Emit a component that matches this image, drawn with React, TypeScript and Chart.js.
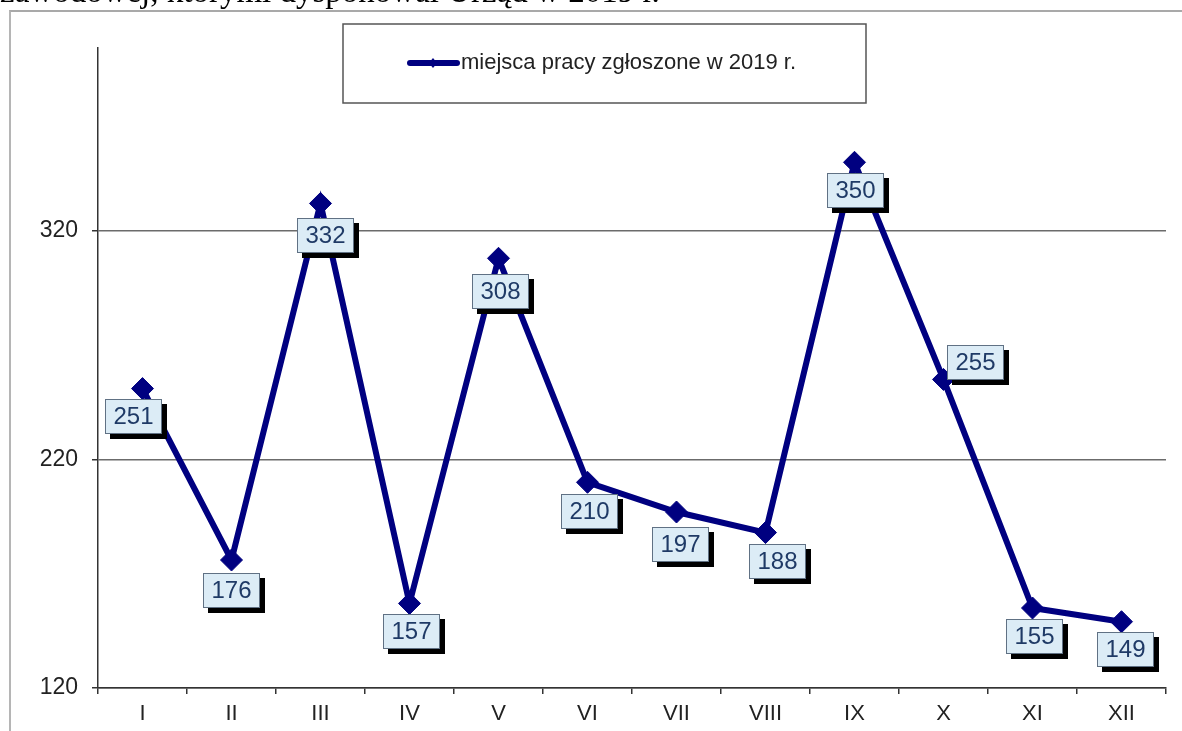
import React, { useEffect, useRef } from "react";
import { Chart, registerables } from "chart.js";

Chart.register(...registerables);

const categories = ["I", "II", "III", "IV", "V", "VI", "VII", "VIII", "IX", "X", "XI", "XII"];
const values = [251, 176, 332, 157, 308, 210, 197, 188, 350, 255, 155, 149];
const yTicks = [120, 220, 320];
const yMin = 120;
const yMax = 400;
const seriesLabel = "miejsca pracy zgłoszone w 2019 r.";
const headerText = "zawodowej, którymi dysponował Urząd w 2019 r.";
// label box offsets relative to each point (px)
const labelOffsets = [
  [-9, 28], [0, 30], [5, 32], [2, 28], [2, 33], [2, 29],
  [4, 32], [12, 29], [1, 28], [32, -17], [2, 28], [4, 28],
];

const NAVY = "#000080";
const SANS = '"Liberation Sans", Arial, sans-serif';

const boxLabelPlugin = {
  id: "boxLabels",
  afterDatasetsDraw(chart: any) {
    const ctx = chart.ctx;
    const meta = chart.getDatasetMeta(0);
    const ds = chart.data.datasets[0].data as number[];
    ctx.save();
    ctx.font = `24px ${SANS}`;
    meta.data.forEach((pt: any, i: number) => {
      const [dx, dy] = labelOffsets[i];
      const cx = pt.x + dx;
      const cy = pt.y + dy;
      const w = 57;
      const h = 35;
      const x0 = Math.round(cx - w / 2);
      const y0 = Math.round(cy - h / 2);
      ctx.fillStyle = "#000";
      ctx.fillRect(x0 + 5, y0 + 5, w, h);
      ctx.fillStyle = "#dcecf6";
      ctx.fillRect(x0, y0, w, h);
      ctx.strokeStyle = "#607184";
      ctx.lineWidth = 1;
      ctx.strokeRect(x0 + 0.5, y0 + 0.5, w - 1, h - 1);
      ctx.fillStyle = "#1f3a66";
      ctx.textAlign = "center";
      ctx.textBaseline = "middle";
      ctx.fillText(String(ds[i]), x0 + w / 2, y0 + h / 2 + 1);
    });
    ctx.restore();
  },
};

const legendBoxPlugin = {
  id: "legendBox",
  afterDraw(chart: any) {
    const ctx = chart.ctx;
    const label = chart.data.datasets[0].label as string;
    ctx.save();
    ctx.fillStyle = "#fff";
    ctx.fillRect(343, 24, 523, 79);
    ctx.strokeStyle = "#555";
    ctx.lineWidth = 1.5;
    ctx.strokeRect(343, 24, 523, 79);
    const ly = 63;
    ctx.strokeStyle = NAVY;
    ctx.lineWidth = 6;
    ctx.lineCap = "round";
    ctx.beginPath();
    ctx.moveTo(410, ly);
    ctx.lineTo(457, ly);
    ctx.stroke();
    ctx.fillStyle = NAVY;
    ctx.beginPath();
    ctx.moveTo(433, ly - 5);
    ctx.lineTo(437, ly);
    ctx.lineTo(433, ly + 5);
    ctx.lineTo(429, ly);
    ctx.closePath();
    ctx.fill();
    ctx.fillStyle = "#222";
    ctx.font = `22px ${SANS}`;
    ctx.textAlign = "left";
    ctx.textBaseline = "middle";
    ctx.fillText(label, 461, ly);
    ctx.restore();
  },
};

export default function App() {
  const canvasRef = useRef<HTMLCanvasElement | null>(null);

  useEffect(() => {
    document.body.style.margin = "0";
    const canvas = canvasRef.current;
    if (!canvas) return;
    const chart = new Chart(canvas, {
      type: "line",
      data: {
        labels: categories,
        datasets: [
          {
            label: seriesLabel,
            data: values,
            borderColor: NAVY,
            backgroundColor: NAVY,
            borderWidth: 6,
            pointStyle: "rectRot",
            pointRadius: 11,
            pointBorderWidth: 1,
            pointBackgroundColor: NAVY,
            pointBorderColor: NAVY,
            tension: 0,
          },
        ],
      },
      options: {
        responsive: false,
        animation: false,
        layout: { padding: { top: 48, right: 16, left: 0, bottom: 0 } },
        plugins: {
          legend: { display: false },
          tooltip: { enabled: false },
          title: { display: false },
        },
        scales: {
          x: {
            type: "category",
            offset: true,
            grid: {
              offset: true,
              drawOnChartArea: false,
              drawTicks: true,
              tickLength: 6,
              color: "#333",
              lineWidth: 1.5,
            },
            border: { color: "#333", width: 1.5 },
            ticks: {
              font: { family: SANS, size: 22 },
              color: "#222",
              padding: 7,
              maxRotation: 0,
              autoSkip: false,
            },
            afterFit: (s: any) => {
              s.height = 43;
            },
          },
          y: {
            min: yMin,
            max: yMax,
            afterBuildTicks: (s: any) => {
              s.ticks = yTicks.map((v) => ({ value: v }));
            },
            grid: {
              color: "#6b6b6b",
              lineWidth: 1.5,
              tickLength: 6,
              tickColor: "#333",
            },
            border: { color: "#333", width: 1.5 },
            ticks: {
              font: { family: SANS, size: 23 },
              color: "#222",
              padding: 14,
            },
            afterFit: (s: any) => {
              s.width = 98;
            },
          },
        },
      },
      plugins: [boxLabelPlugin, legendBoxPlugin],
    });
    return () => chart.destroy();
  }, []);

  return (
    <div style={{ position: "fixed", left: 0, top: 0, width: 1182, height: 731, overflow: "hidden", background: "#fff" }}>
      <div
        style={{
          position: "absolute",
          left: 9,
          top: 10,
          width: 1200,
          height: 800,
          borderTop: "2px solid #a9a9a9",
          borderLeft: "2px solid #b5b5b5",
          boxSizing: "border-box",
        }}
      />
      <canvas
        ref={canvasRef}
        width={1182}
        height={731}
        style={{ position: "absolute", left: 0, top: 0, width: 1182, height: 731 }}
      />
      <div
        style={{
          position: "absolute",
          left: 0,
          top: -25,
          fontFamily: '"Liberation Serif", "Times New Roman", serif',
          fontSize: 33,
          lineHeight: "33px",
          whiteSpace: "nowrap",
          color: "#000",
        }}
      >
        {headerText}
      </div>
    </div>
  );
}
